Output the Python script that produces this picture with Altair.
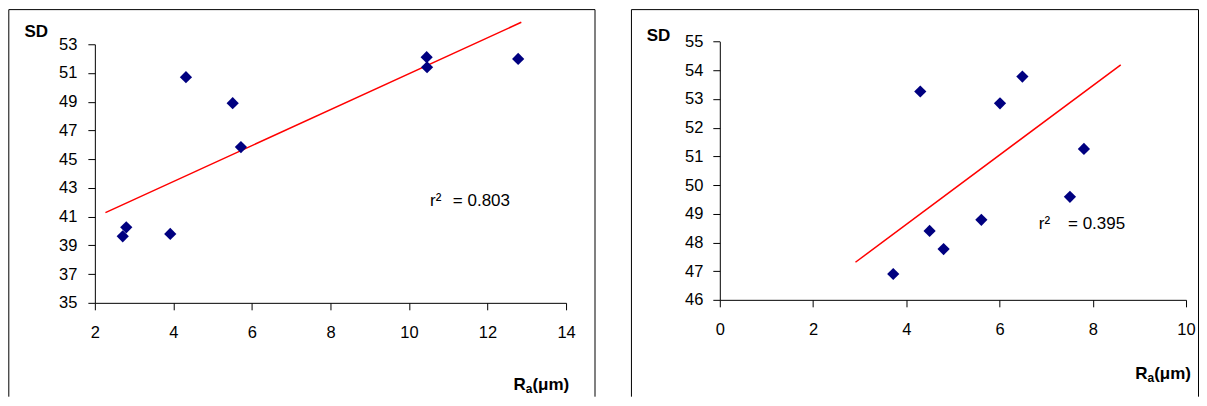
import altair as alt
import pandas as pd

# ---------------- data ----------------
left_ra = [2.71, 2.80, 3.92, 4.32, 5.51, 5.72, 10.45, 10.46, 12.78]
left_sd = [39.63, 40.26, 39.80, 50.71, 48.90, 45.84, 52.10, 51.40, 51.98]
left_fit_ra = [2.27, 12.86]
left_fit_sd = [41.28, 54.53]
left_x_ticks = [2, 4, 6, 8, 10, 12, 14]
left_y_ticks = [35, 37, 39, 41, 43, 45, 47, 49, 51, 53]
left_r2 = "0.803"

right_ra = [3.72, 4.30, 4.50, 4.80, 5.61, 6.01, 6.49, 7.51, 7.81]
right_sd = [46.90, 53.26, 48.40, 47.77, 48.79, 52.85, 53.78, 49.59, 51.26]
right_fit_ra = [2.91, 8.60]
right_fit_sd = [47.31, 54.19]
right_x_ticks = [0, 2, 4, 6, 8, 10]
right_y_ticks = [46, 47, 48, 49, 50, 51, 52, 53, 54, 55]
right_r2 = "0.395"

FONT = "Liberation Sans"
one = pd.DataFrame({"k": [0]})


def axis(values, pad):
    return alt.Axis(
        values=values, title=None, grid=False, labelPadding=pad,
        labelFont=FONT, labelFontSize=16.5, labelColor="black",
        labelOverlap=False, labelFlush=False, labelBound=False,
        domainColor="black", tickColor="black", tickSize=7,
        domainWidth=1, tickWidth=1, ticks=True, domain=True,
    )


def panel(ra, sd, fit_ra, fit_sd, xticks, yticks, r2, w, h, yrange, frame,
          sd_pos, ra_pos, r2_pos, lab_pad):
    pts_df = pd.DataFrame({"Ra": ra, "SD": sd})
    fit_df = pd.DataFrame({"Ra": fit_ra, "SD": fit_sd})
    xs = alt.Scale(domain=[xticks[0], xticks[-1]], nice=False, zero=False)
    ys = alt.Scale(domain=[yticks[0], yticks[-1]], nice=False, zero=False, range=yrange)
    xax = axis(xticks, lab_pad[0])
    yax = axis(yticks, lab_pad[1])

    fit = alt.Chart(fit_df).mark_line(color="#ff0000", strokeWidth=1.5, clip=False).encode(
        x=alt.X("Ra:Q", scale=xs, axis=xax), y=alt.Y("SD:Q", scale=ys, axis=yax)
    )

    pts = alt.Chart(pts_df).mark_point(
        shape="diamond", filled=True, size=150, color="#000080", opacity=1
    ).encode(
        x=alt.X("Ra:Q", scale=xs, axis=xax),
        y=alt.Y("SD:Q", scale=ys, axis=yax),
    )

    l, r, t, b = frame
    rules = [
        alt.Chart(one).mark_rule(color="black", strokeWidth=1).encode(
            x=alt.value(l), x2=alt.value(r), y=alt.value(t), y2=alt.value(t)),
        alt.Chart(one).mark_rule(color="black", strokeWidth=1).encode(
            x=alt.value(l), x2=alt.value(l), y=alt.value(t), y2=alt.value(b)),
        alt.Chart(one).mark_rule(color="black", strokeWidth=1).encode(
            x=alt.value(r), x2=alt.value(r), y=alt.value(t), y2=alt.value(b)),
    ]

    sd_txt = alt.Chart(one).mark_text(
        text="SD", font=FONT, fontSize=17, fontWeight="bold", align="center",
        baseline="alphabetic", color="black"
    ).encode(x=alt.value(sd_pos[0]), y=alt.value(sd_pos[1]))

    rx, ry = ra_pos
    ra_R = alt.Chart(one).mark_text(
        text="R", font=FONT, fontSize=17, fontWeight="bold", align="left",
        baseline="alphabetic", color="black"
    ).encode(x=alt.value(rx), y=alt.value(ry))
    ra_a = alt.Chart(one).mark_text(
        text="a", font=FONT, fontSize=12, fontWeight="bold", align="left",
        baseline="alphabetic", color="black"
    ).encode(x=alt.value(rx + 12.3), y=alt.value(ry + 3))
    ra_u = alt.Chart(one).mark_text(
        text="(μm)", font=FONT, fontSize=17, fontWeight="bold", align="left",
        baseline="alphabetic", color="black"
    ).encode(x=alt.value(rx + 19.0), y=alt.value(ry))

    r2l, r2r, r2y = r2_pos
    r2_a = alt.Chart(one).mark_text(
        text="r²", font=FONT, fontSize=17, align="left", baseline="alphabetic", color="black"
    ).encode(x=alt.value(r2l), y=alt.value(r2y))
    r2_b = alt.Chart(one).mark_text(
        text="= " + r2, font=FONT, fontSize=17, align="right", baseline="alphabetic", color="black"
    ).encode(x=alt.value(r2r), y=alt.value(r2y))

    return alt.layer(fit, pts, *rules, sd_txt, ra_R, ra_a, ra_u, r2_a, r2_b).properties(
        width=w, height=h
    )


left = panel(
    left_ra, left_sd, left_fit_ra, left_fit_sd, left_x_ticks, left_y_ticks, left_r2,
    w=472, h=259, yrange=[259, 0],
    frame=(-86.2, 501, -34.7, 353),
    sd_pos=(-58.7, -7),
    ra_pos=(419.3, 346.3),
    r2_pos=(335.8, 415.8, 162.3),
    lab_pad=(15, 11),
)

right = panel(
    right_ra, right_sd, right_fit_ra, right_fit_sd, right_x_ticks, right_y_ticks, right_r2,
    w=467, h=256, yrange=[256, -2.7],
    frame=(-88.5, 479.5, -34.7, 353),
    sd_pos=(-61.5, -3.4),
    ra_pos=(416.1, 335.3),
    r2_pos=(319.5, 406, 185.3),
    lab_pad=(14.5, 10),
)

chart = alt.hconcat(left, right, spacing=35).properties(padding=0).configure_view(
    stroke=None
)

chart.save("out.html", embed_options={"renderer": "svg", "actions": False})
